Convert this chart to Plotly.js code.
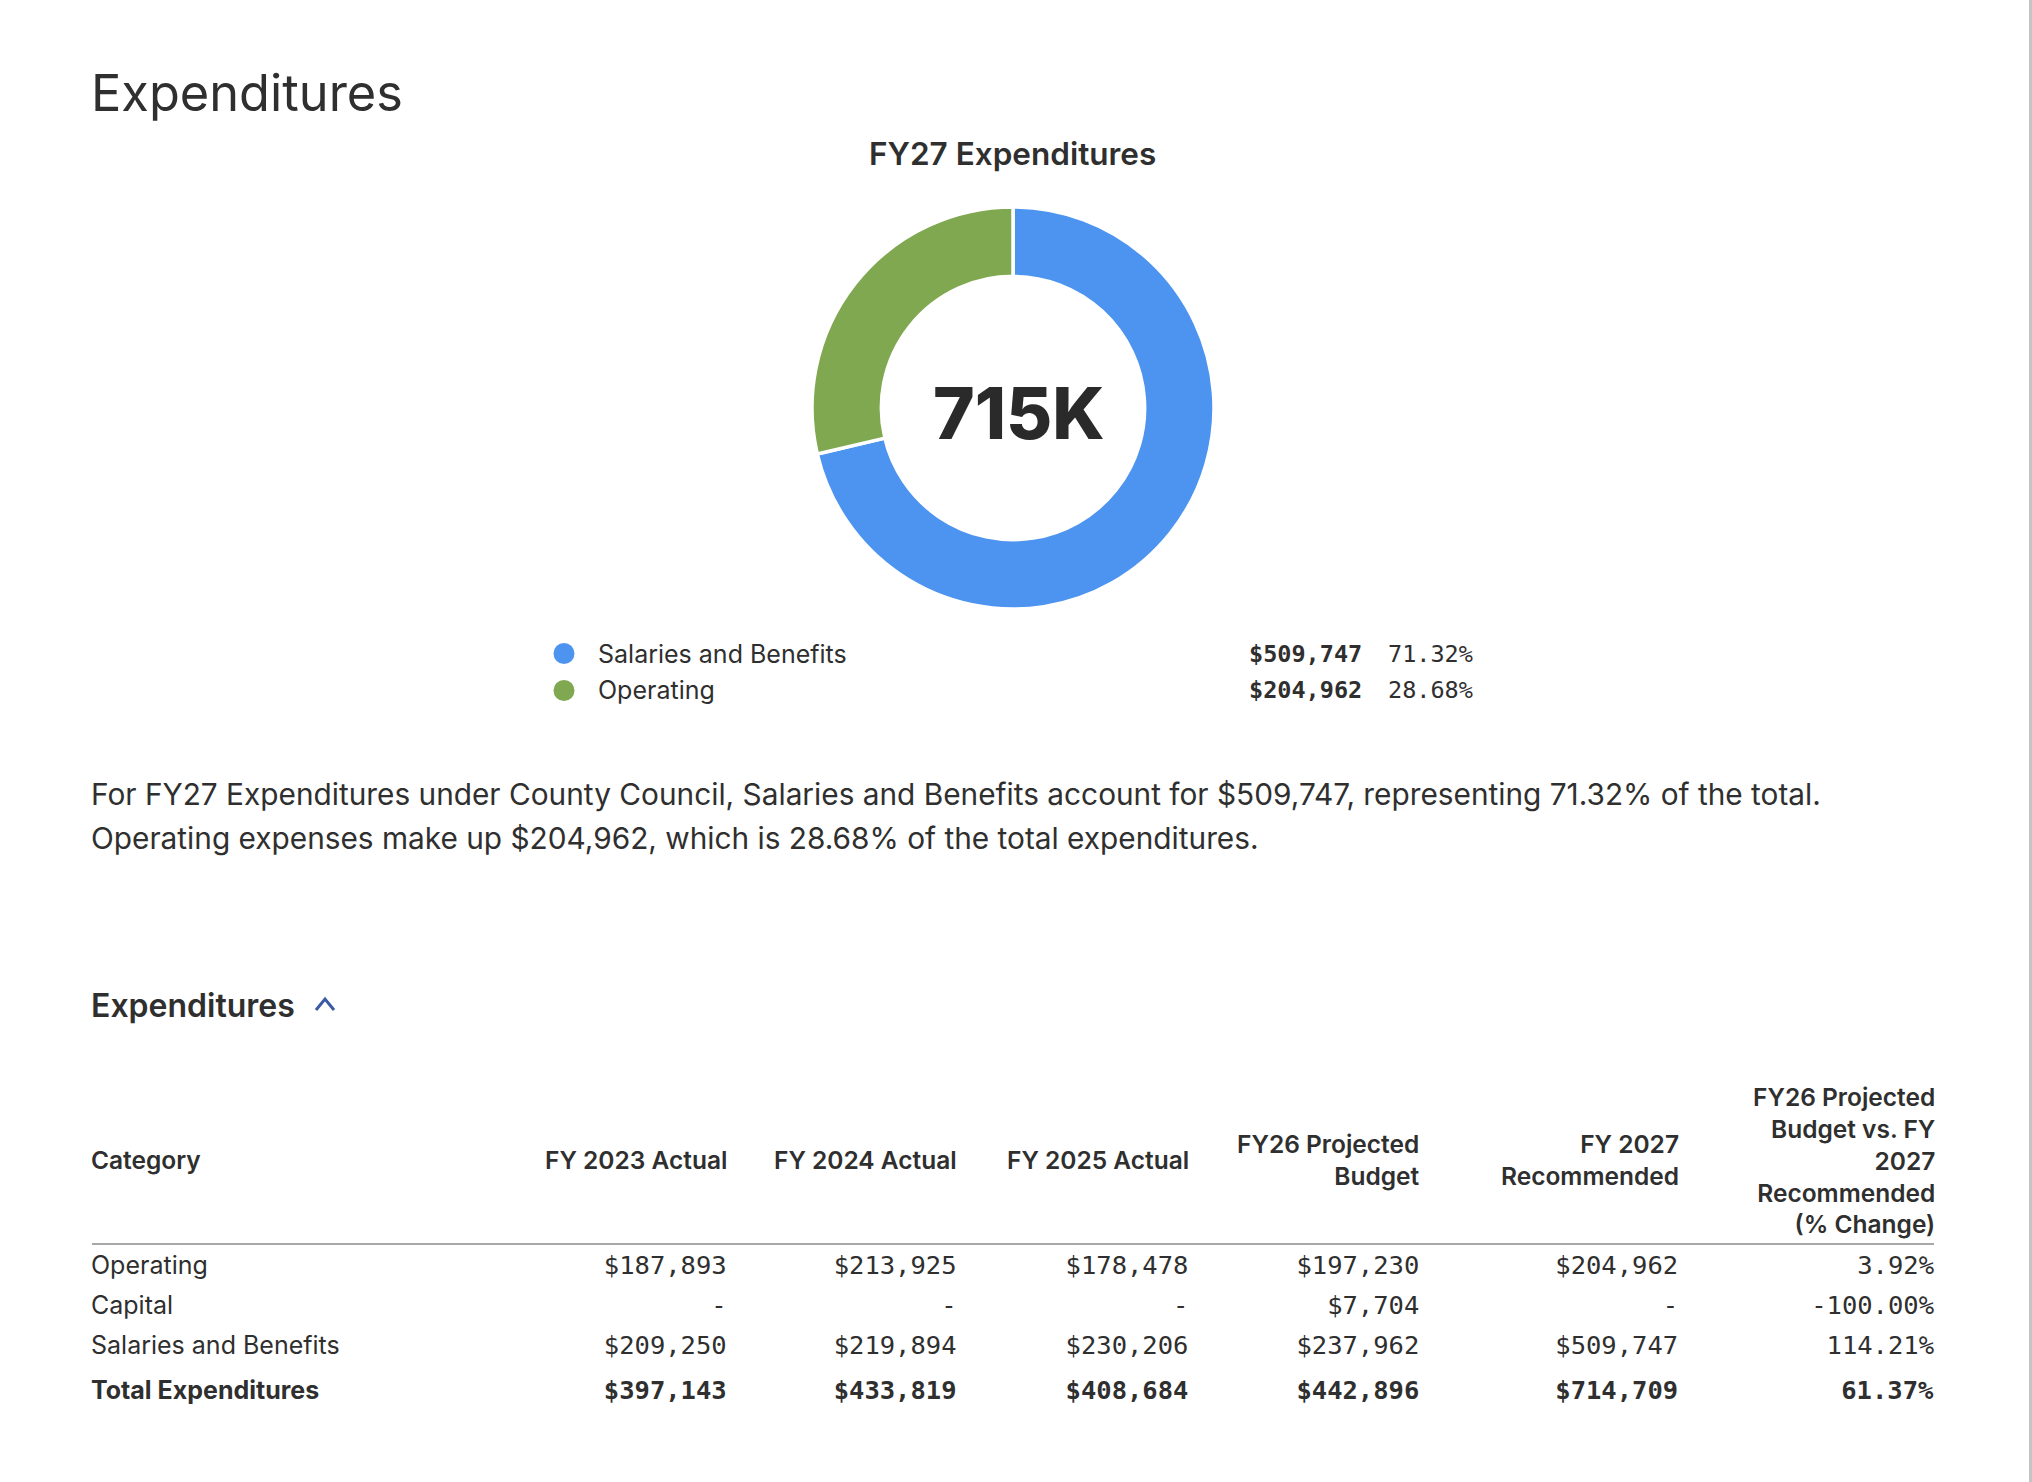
<!DOCTYPE html>
<html>
<head>
<meta charset="utf-8">
<script src="https://cdn.plot.ly/plotly-3.0.1.min.js"></script>
<style>
  html, body { margin: 0; padding: 0; background: #ffffff; }
  #chart { width: 2032px; height: 1482px; }
</style>
</head>
<body>
<div id="chart"></div>
<script>
// ---------------- DATA ----------------
const pageTitle = "Expenditures";
const chartTitle = "FY27 Expenditures";
const sectionTitle = "Expenditures";
const department = "County Council";

const pieLabels = ["Salaries and Benefits", "Operating"];
const pieValues = [509747, 204962];
const pieColors = ["#4d94f0", "#80a851"];

const categories = ["Operating", "Capital", "Salaries and Benefits"];
const totalLabel = "Total Expenditures";
const columnHeaders = [
  "Category",
  "FY 2023 Actual",
  "FY 2024 Actual",
  "FY 2025 Actual",
  "FY26 Projected<br>Budget",
  "FY 2027<br>Recommended",
  "FY26 Projected<br>Budget vs. FY<br>2027<br>Recommended<br>(% Change)"
];
const fy2023Actual      = [187893, null, 209250];
const fy2024Actual      = [213925, null, 219894];
const fy2025Actual      = [178478, null, 230206];
const fy26Projected     = [197230, 7704, 237962];
const fy2027Recommended = [204962, null, 509747];

// ---------------- HELPERS ----------------
const W = 2032, H = 1482;
const X = p => p / W;
const Y = p => 1 - p / H;
const SANS = "Inter, 'Noto Sans', sans-serif";
const MONO = "'DejaVu Sans Mono', 'Liberation Mono', monospace";
const TXT = "#2f2f2f";

const money = v => (v === null || v === undefined) ? "-" : "$" + v.toLocaleString("en-US");
const pct = r => (r * 100).toFixed(2) + "%";
const sum = arr => arr.reduce((a, b) => a + (b || 0), 0);

const pieTotal = sum(pieValues);
const pieShares = pieValues.map(v => v / pieTotal);
const totalK = Math.round(pieTotal / 1000) + "K";

const numericCols = [fy2023Actual, fy2024Actual, fy2025Actual, fy26Projected, fy2027Recommended];
const colTotals = numericCols.map(sum);
const changeRows = fy26Projected.map((b, i) => ((fy2027Recommended[i] || 0) - (b || 0)) / (b || 1));
const changeTotal = (colTotals[4] - colTotals[3]) / colTotals[3];

// ---------------- TABLE ----------------
const bold = s => "<b>" + s + "</b>";
const tableCols = [
  categories.concat([bold(totalLabel)]),
  ...numericCols.map((col, j) => col.map(money).concat([bold(money(colTotals[j]))])),
  changeRows.map(pct).concat([bold(pct(changeTotal))])
];

const colRight = [null, 729, 959, 1191, 1422, 1681, 1937];
const tableLeft = 83, tableRight = 1943;
const colEdges = [83, 505, 735, 965, 1197, 1428, 1687, 1943];
const colWidths = colEdges.slice(1).map((e, i) => e - colEdges[i]);

const traces = [];

traces.push({
  type: "pie",
  labels: pieLabels,
  values: pieValues,
  sort: false,
  direction: "clockwise",
  rotation: 0,
  hole: 0.655,
  textinfo: "none",
  hoverinfo: "none",
  showlegend: false,
  marker: { colors: pieColors, line: { color: "#ffffff", width: 3.5 } },
  domain: { x: [X(1013 - 201), X(1013 + 201)], y: [Y(408 + 201), Y(408 - 201)] }
});

traces.push({
  type: "table",
  domain: { x: [X(tableLeft), X(tableRight)], y: [Y(1426), Y(1239)] },
  columnwidth: colWidths,
  header: {
    values: columnHeaders.map(() => [""]),
    height: 8,
    fill: { color: "#ffffff" },
    line: { width: 0, color: "#ffffff" },
    font: { size: 2, color: "#ffffff" }
  },
  cells: {
    values: tableCols,
    height: 40,
    align: ["left", "right", "right", "right", "right", "right", "right"],
    fill: { color: "#ffffff" },
    line: { width: 0, color: "#ffffff" },
    font: {
      family: [SANS, MONO, MONO, MONO, MONO, MONO, MONO],
      size: [25, 25.5, 25.5, 25.5, 25.5, 25.5, 25.5],
      color: TXT
    }
  },
  hoverinfo: "none"
});

// legend dots
traces.push({
  type: "scatter",
  mode: "markers",
  x: pieLabels.map(() => 0),
  y: pieLabels,
  xaxis: "x",
  yaxis: "y",
  marker: { size: 21, color: pieColors },
  hoverinfo: "none",
  showlegend: false
});

// ---------------- ANNOTATIONS ----------------
const ann = [];
ann.push({ text: pageTitle, x: X(89), y: Y(93), xanchor: "left", yanchor: "middle",
  font: { family: SANS, size: 50.5, color: TXT, weight: 400 } });
ann.push({ text: chartTitle, x: X(1012), y: Y(153), xanchor: "center", yanchor: "middle",
  font: { family: SANS, size: 31.5, color: TXT, weight: 600 } });
ann.push({ text: totalK, x: X(1019), y: Y(413), xanchor: "center", yanchor: "middle",
  font: { family: SANS, size: 71, color: "#2a2a2a", weight: 800 } });

const legendY = [654, 690];
pieLabels.forEach((lab, i) => {
  ann.push({ text: lab, x: X(596), y: Y(legendY[i]), xanchor: "left", yanchor: "middle",
    font: { family: SANS, size: 25, color: TXT, weight: 400 } });
  ann.push({ text: bold(money(pieValues[i])), x: X(1364), y: Y(legendY[i]), xanchor: "right", yanchor: "middle",
    font: { family: MONO, size: 23.5, color: TXT } });
  ann.push({ text: pct(pieShares[i]), x: X(1386), y: Y(legendY[i]), xanchor: "left", yanchor: "middle",
    font: { family: MONO, size: 23.5, color: TXT } });
});

const para1 = `For FY27 Expenditures under ${department}, ${pieLabels[0]} account for ${money(pieValues[0])}, representing ${pct(pieShares[0])} of the total.`;
const para2 = `${pieLabels[1]} expenses make up ${money(pieValues[1])}, which is ${pct(pieShares[1])} of the total expenditures.`;
ann.push({ text: para1, x: X(89), y: Y(794), xanchor: "left", yanchor: "middle",
  font: { family: SANS, size: 29.8, color: TXT, weight: 400 } });
ann.push({ text: para2, x: X(89), y: Y(838), xanchor: "left", yanchor: "middle",
  font: { family: SANS, size: 29.8, color: TXT, weight: 400 } });

ann.push({ text: sectionTitle, x: X(89), y: Y(1005), xanchor: "left", yanchor: "middle",
  font: { family: SANS, size: 32, color: TXT, weight: 600 } });

columnHeaders.forEach((h, j) => {
  ann.push({ text: h, x: j === 0 ? X(89) : X(colRight[j]), y: Y(1160),
    xanchor: j === 0 ? "left" : "right", yanchor: "middle", align: j === 0 ? "left" : "right",
    font: { family: SANS, size: 24.5, color: TXT, weight: 600 } });
});
ann.forEach(a => { a.xref = "paper"; a.yref = "paper"; a.showarrow = false; });

// ---------------- SHAPES ----------------
const shapes = [
  { type: "line", xref: "paper", yref: "paper", x0: X(92), x1: X(1934), y0: Y(1244), y1: Y(1244),
    line: { color: "#a8a8a8", width: 2 } },
  { type: "path", xref: "paper", yref: "paper",
    path: `M ${X(316)} ${Y(1010)} L ${X(325)} ${Y(999)} L ${X(334)} ${Y(1010)}`,
    line: { color: "#3b5ba5", width: 3 } },
  { type: "rect", xref: "paper", yref: "paper", x0: X(2029), x1: X(2032), y0: 0, y1: 1,
    fillcolor: "#c4c4c4", line: { width: 0 } }
];

const layout = {
  width: W, height: H,
  margin: { l: 0, r: 0, t: 0, b: 0 },
  paper_bgcolor: "#ffffff",
  plot_bgcolor: "rgba(0,0,0,0)",
  showlegend: false,
  xaxis: { domain: [X(552), X(576)], range: [-1, 1], visible: false, fixedrange: true },
  yaxis: { domain: [Y(709), Y(635)], type: "category", range: [1.5, -0.5],
    categoryorder: "array", categoryarray: pieLabels, visible: false, fixedrange: true },
  annotations: ann,
  shapes: shapes
};

Plotly.newPlot("chart", traces, layout, { displayModeBar: false, staticPlot: true });
</script>
</body>
</html>
